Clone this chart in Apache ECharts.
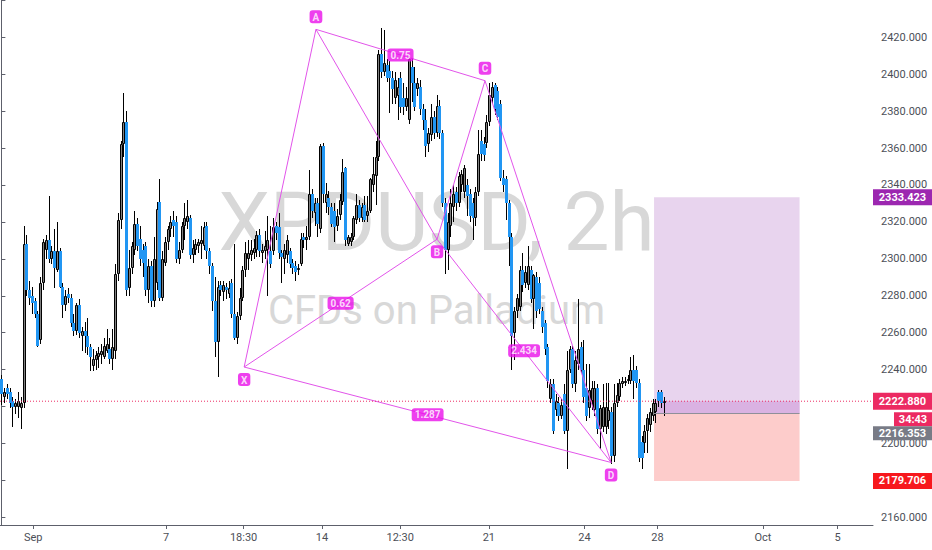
<!DOCTYPE html>
<html><head><meta charset="utf-8">
<script src="https://cdn.jsdelivr.net/npm/echarts@6/dist/echarts.min.js"></script>
<style>html,body{margin:0;padding:0;background:#fff}#c{width:932px;height:550px}</style>
</head><body><div id="c"></div>
<script>
// ---- data ----
// candles: [open, close, low, high], one per 2h bar
const candles = [
[2235,2227,2221,2237],[2225,2228,2222,2230],[2230,2227,2224,2232],[2228,2222,2219,2230],[2223,2220,2209,2225],
[2220,2222,2216,2224],[2220,2223,2214,2228],[2219,2222,2208,2225],[2222,2308,2219,2318],[2308,2283,2280,2313],
[2283,2279,2275,2288],[2280,2276,2270,2285],[2277,2270,2268,2279],[2270,2253,2252,2272],[2256,2287,2254,2290],
[2287,2309,2283,2311],[2305,2310,2300,2313],[2310,2300,2298,2334],[2300,2304,2297,2307],[2304,2295,2284,2316],
[2294,2304,2293,2320],[2304,2285,2284,2306],[2285,2275,2268,2287],[2275,2280,2272,2283],[2281,2279,2276,2284],
[2279,2265,2263,2281],[2265,2261,2258,2270],[2261,2275,2259,2276],[2275,2260,2257,2278],[2258,2261,2250,2263],
[2261,2258,2249,2266],[2258,2252,2248,2268],[2252,2247,2239,2254],[2242,2246,2239,2251],[2245,2248,2240,2250],
[2247,2249,2241,2252],[2248,2250,2243,2254],[2247,2253,2246,2257],[2250,2254,2249,2262],[2251,2246,2243,2257],
[2246,2252,2240,2262],[2250,2292,2246,2297],[2292,2321,2288,2325],[2321,2362,2316,2364],[2362,2374,2355,2390],
[2374,2283,2280,2380],[2284,2295,2280,2305],[2295,2307,2292,2309],[2305,2319,2302,2326],[2319,2307,2304,2322],
[2311,2300,2296,2318],[2305,2298,2290,2308],[2307,2283,2280,2309],[2283,2296,2276,2300],[2296,2277,2274,2299],
[2277,2300,2274,2312],[2287,2327,2283,2331],[2331,2279,2277,2343],[2279,2300,2277,2304],[2298,2309,2296,2312],
[2309,2316,2305,2318],[2316,2320,2312,2323],[2321,2318,2312,2326],[2320,2300,2298,2323],[2300,2305,2297,2309],
[2305,2318,2303,2320],[2318,2322,2310,2330],[2320,2323,2316,2332],[2322,2302,2300,2324],[2302,2306,2298,2310],
[2305,2308,2302,2311],[2307,2309,2303,2311],[2308,2310,2300,2318],[2307,2317,2305,2320],[2318,2304,2300,2320],
[2304,2296,2292,2306],[2296,2277,2272,2298],[2277,2255,2247,2290],[2255,2285,2236,2288],[2286,2283,2280,2288],
[2282,2286,2277,2288],[2285,2283,2278,2287],[2281,2284,2279,2288],[2287,2270,2268,2289],[2270,2257,2256,2308],
[2257,2269,2254,2271],[2269,2279,2267,2284],[2279,2294,2277,2296],[2294,2303,2290,2309],[2300,2303,2294,2310],
[2302,2305,2299,2310],[2303,2306,2300,2311],[2305,2313,2301,2315],[2313,2304,2301,2316],[2303,2305,2298,2308],
[2304,2307,2300,2315],[2305,2310,2280,2323],[2304,2297,2295,2318],[2304,2317,2302,2322],[2318,2314,2310,2320],
[2317,2303,2300,2325],[2303,2301,2287,2305],[2300,2305,2292,2308],[2302,2310,2298,2313],[2304,2297,2295,2306],
[2298,2295,2292,2300],[2296,2293,2288,2299],[2294,2295,2291,2297],[2297,2311,2296,2314],[2312,2310,2306,2314],
[2310,2312,2305,2318],[2312,2335,2310,2348],[2335,2326,2322,2338],[2325,2330,2318,2333],[2330,2319,2312,2333],
[2316,2361,2314,2362],[2361,2335,2330,2363],[2330,2335,2325,2341],[2333,2328,2324,2337],[2328,2319,2317,2330],
[2326,2317,2309,2330],[2318,2323,2315,2327],[2324,2332,2321,2335],[2331,2347,2329,2354],[2349,2310,2307,2350],
[2308,2312,2307,2313],[2309,2312,2307,2314],[2312,2322,2310,2323],[2321,2329,2319,2335],[2329,2322,2320,2332],
[2322,2328,2320,2330],[2329,2321,2320,2334],[2323,2326,2320,2334],[2326,2343,2325,2344],[2340,2346,2336,2355],
[2345,2355,2329,2364],[2355,2411,2353,2413],[2411,2401,2398,2425],[2401,2406,2399,2424],[2405,2398,2396,2408],
[2402,2398,2379,2407],[2398,2392,2384,2402],[2387,2397,2384,2401],[2388,2393,2375,2398],[2398,2382,2379,2401],
[2387,2382,2378,2395],[2382,2387,2380,2393],[2375,2408,2373,2410],[2404,2395,2385,2409],[2395,2382,2380,2404],
[2392,2395,2388,2398],[2393,2381,2378,2397],[2381,2375,2370,2384],[2375,2361,2355,2381],[2362,2368,2358,2371],
[2367,2377,2364,2384],[2377,2368,2365,2380],[2368,2383,2366,2389],[2383,2368,2365,2386],[2368,2330,2328,2370],
[2330,2305,2292,2333],[2305,2320,2294,2325],[2318,2330,2312,2338],[2328,2335,2320,2340],[2336,2330,2326,2339],
[2330,2345,2328,2347],[2340,2346,2336,2348],[2336,2349,2333,2351],[2340,2334,2323,2343],[2335,2323,2320,2338],
[2330,2322,2310,2333],[2322,2336,2318,2339],[2336,2357,2334,2370],[2364,2357,2353,2370],[2362,2356,2353,2366],
[2363,2374,2360,2378],[2374,2389,2372,2395],[2387,2393,2384,2396],[2394,2381,2378,2395],[2391,2377,2375,2393],
[2384,2344,2342,2386],[2344,2340,2336,2348],[2343,2330,2321,2345],[2330,2312,2296,2332],[2312,2258,2240,2314],
[2260,2272,2245,2274],[2272,2279,2268,2281],[2274,2294,2272,2296],[2294,2286,2282,2303],[2287,2293,2284,2296],
[2286,2296,2283,2307],[2294,2278,2276,2296],[2278,2291,2262,2292],[2290,2272,2268,2293],[2287,2273,2270,2290],
[2272,2263,2260,2274],[2265,2251,2248,2267],[2252,2234,2230,2254],[2224,2232,2222,2235],[2232,2207,2205,2235],
[2218,2223,2215,2227],[2222,2215,2212,2225],[2215,2221,2213,2224],[2227,2207,2205,2232],[2207,2240,2186,2250],
[2240,2251,2238,2253],[2251,2232,2230,2253],[2232,2245,2228,2250],[2243,2251,2240,2278],[2252,2240,2238,2255],
[2240,2225,2222,2256],[2230,2215,2212,2243],[2219,2229,2214,2243],[2223,2230,2218,2234],[2218,2230,2215,2234],
[2230,2208,2205,2232],[2208,2219,2197,2221],[2209,2220,2206,2232],[2209,2220,2205,2233],[2212,2218,2208,2233],
[2217,2193,2189,2220],[2193,2222,2190,2232],[2222,2226,2220,2233],[2225,2233,2223,2235],[2232,2234,2230,2236],
[2233,2234,2231,2236],[2234,2235,2232,2237],[2234,2240,2232,2247],[2240,2234,2224,2248],[2240,2233,2230,2242],
[2233,2192,2190,2235],[2201,2192,2186,2204],[2200,2207,2195,2210],[2207,2214,2195,2216],[2210,2217,2206,2219],
[2215,2222,2212,2224],[2217,2222,2211,2224],[2228,2223,2220,2229],[2228,2222,2219,2229],[2222,2222.88,2215,2225]
];
const barSlots = 315;                      // visible bar slots incl. empty future
const xTickIdx  = [11.5, 59.4, 87.4, 115.7, 143.9, 175.9, 210.4, 236.7, 274.8, 301.7];
const xTickText = ['Sep','7','18:30','14','12:30','21','24','28','Oct','5'];
const yLabelMax = 2420;                    // highest price label shown on the scale
const yHiddenLabels = [2180, 2220];        // labels covered by price tags
// harmonic XABCD pattern anchors (bar index, price)
const patternNames = ['X','A','B','C','D'];
const patternIdx   = [87.6, 113.5, 157.2, 174.5, 220.0];
const patternPrice = [2241.4, 2424.3, 2310.6, 2396.5, 2189.7];
const ratioLinks   = [['X','B','0.62'],['A','C','0.75'],['B','D','2.434'],['X','D','1.287']];
// long position tool
const positionStartIdx = 235.5, positionEndIdx = 288;
const targetPrice = 2333.423, entryPrice = 2216.353, stopPrice = 2179.706;
const lastPrice = 2222.880, countdownText = '34:43';
const titleText = 'XPDUSD, 2h', subtitleText = 'CFDs on Palladium';

// ---- styles ----
const UP_FILL = '#808080', DOWN_FILL = '#2196f3', WICK = '#000000';
const PAT = '#e254ea', PAT_BG = '#ea10ea';
const LAST_COLOR = '#ec2a62';
const AXIS_TXT = '#4c4f57', AXIS_LINE = '#5d606b';
const FONT = 'Roboto';
const X_MIN = -0.5, X_MAX = barSlots - 0.5;

const chart = echarts.init(document.getElementById('c'), null, {renderer: 'svg'});

function renderCandle(params, api) {
  const i = api.value(0), o = api.value(1), c = api.value(2), l = api.value(3), h = api.value(4);
  const pO = api.coord([i, o]), pC = api.coord([i, c]), pH = api.coord([i, h]), pL = api.coord([i, l]);
  const cx = Math.round(pO[0]);
  const up = c >= o;
  let top = Math.round(Math.min(pO[1], pC[1])), bot = Math.round(Math.max(pO[1], pC[1]));
  if (bot - top < 2) bot = top + 2;
  const kids = [{type: 'line', shape: {x1: cx + 0.5, y1: Math.round(pH[1]), x2: cx + 0.5, y2: Math.round(pL[1])},
    style: {stroke: WICK, lineWidth: 1}}];
  if (up) {
    kids.push({type: 'rect', shape: {x: cx - 0.5, y: top + 0.5, width: 2, height: bot - top - 1},
      style: {fill: UP_FILL, stroke: '#000', lineWidth: 1}});
  } else {
    kids.push({type: 'rect', shape: {x: cx - 1, y: top, width: 3, height: bot - top},
      style: {fill: DOWN_FILL}});
  }
  return {type: 'group', children: kids};
}

const pt = n => { const k = patternNames.indexOf(n); return [patternIdx[k], patternPrice[k]]; };
const xLabelFor = v => { for (let k = 0; k < xTickIdx.length; k++) if (Math.abs(xTickIdx[k] - v) < 1e-6) return xTickText[k]; return ''; };
const yLabelFor = v => {
  const r = Math.round(v / 20) * 20;
  if (Math.abs(v - r) > 1e-6 || r > yLabelMax || yHiddenLabels.indexOf(r) >= 0) return '';
  return r.toFixed(3);
};

function tag(value, text, bg, size, offset) {
  return {coord: [X_MAX, value], symbol: 'rect', symbolSize: size, symbolOffset: offset,
    itemStyle: {color: bg},
    label: {show: true, position: 'inside', formatter: text, color: '#fff', fontSize: 11,
      fontFamily: FONT, fontWeight: 'bold'}};
}

const series = [];
// position tool (behind candles)
series.push({
  type: 'line', data: [], z: 1, silent: true,
  markArea: {silent: true, data: [
    [{coord: [positionStartIdx, targetPrice], itemStyle: {color: '#e8d4ee'}}, {coord: [positionEndIdx, entryPrice]}],
    [{coord: [positionStartIdx, entryPrice], itemStyle: {color: '#fdcccb'}}, {coord: [positionEndIdx, stopPrice]}],
    [{coord: [positionStartIdx, lastPrice], itemStyle: {color: '#dab2e2'}}, {coord: [positionEndIdx, entryPrice]}]
  ]},
  markLine: {silent: true, symbol: 'none', label: {show: false},
    lineStyle: {color: '#8f8f99', width: 1, type: 'solid'},
    data: [[{coord: [positionStartIdx, entryPrice]}, {coord: [positionEndIdx, entryPrice]}]]}
});
// last-price dotted line across the whole pane
series.push({
  type: 'line', z: 5, silent: true, symbol: 'none',
  data: [[X_MIN, lastPrice], [X_MAX, lastPrice]],
  lineStyle: {color: LAST_COLOR, width: 1, type: [1, 2]}
});
// candles
series.push({
  type: 'custom', z: 3, renderItem: renderCandle, clip: true,
  encode: {x: 0, y: [1, 2, 3, 4]},
  data: candles.map((c, i) => [i, c[0], c[1], c[2], c[3]])
});
// pattern polyline and diagonals
series.push({type: 'line', z: 4, symbol: 'none', silent: true,
  data: patternNames.map(n => pt(n)), lineStyle: {color: PAT, width: 1}});
ratioLinks.forEach(r => series.push({type: 'line', z: 4, symbol: 'none', silent: true,
  data: [pt(r[0]), pt(r[1])], lineStyle: {color: PAT, width: 1}}));
// pattern labels
const boxLabel = {show: true, color: '#fff', fontSize: 10, fontWeight: 'bold', fontFamily: FONT,
  backgroundColor: PAT_BG, borderRadius: 3, padding: [2, 3, 1, 3]};
series.push({type: 'scatter', z: 6, symbolSize: 2, itemStyle: {color: 'rgba(0,0,0,0)'}, silent: true,
  data: patternNames.map((n, k) => ({value: pt(n), label: Object.assign({}, boxLabel,
    {formatter: n, position: (k % 2 === 1) ? 'top' : 'bottom', distance: 5})}))});
series.push({type: 'scatter', z: 6, symbolSize: 2, itemStyle: {color: 'rgba(0,0,0,0)'}, silent: true,
  data: ratioLinks.map(r => { const a = pt(r[0]), b = pt(r[1]);
    return {value: [(a[0] + b[0]) / 2, (a[1] + b[1]) / 2], label: Object.assign({}, boxLabel, {formatter: r[2], position: 'inside'})}; })});
// right-scale price tags
series.push({type: 'line', data: [], z: 20, silent: true,
  markPoint: {silent: true, z: 20, data: [
    tag(targetPrice, targetPrice.toFixed(3), '#9c27b0', [59, 16], [29.5, 0]),
    tag(lastPrice, lastPrice.toFixed(3), LAST_COLOR, [59, 17], [29.5, 0]),
    tag(lastPrice, countdownText, LAST_COLOR, [38, 14], [40, 18]),
    tag(entryPrice, entryPrice.toFixed(3), '#787b86', [59, 14], [29.5, 20]),
    tag(stopPrice, stopPrice.toFixed(3), '#f7181d', [59, 16], [29.5, 0])
  ]}});

chart.setOption({
  animation: false,
  backgroundColor: '#ffffff',
  title: [
    {text: titleText, left: 436.5, top: 181, textAlign: 'center', padding: 0, z: 0,
      textStyle: {fontFamily: FONT, fontSize: 82, fontWeight: 'normal', color: '#d8d8d8', lineHeight: 82}},
    {text: subtitleText, left: 436.5, top: 290, textAlign: 'center', padding: 0, z: 0,
      textStyle: {fontFamily: FONT, fontSize: 40, fontWeight: 'normal', color: '#d8d8d8', lineHeight: 40}}
  ],
  grid: {left: 0, right: 59, top: 0, bottom: 25, containLabel: false},
  xAxis: {
    type: 'value', min: X_MIN, max: X_MAX,
    axisLine: {show: true, lineStyle: {color: AXIS_LINE, width: 1}},
    axisTick: {show: true, customValues: xTickIdx, length: 4, lineStyle: {color: AXIS_LINE}},
    axisLabel: {customValues: xTickIdx, formatter: xLabelFor, color: AXIS_TXT, fontSize: 11, fontFamily: FONT, margin: 7},
    splitLine: {show: false}
  },
  yAxis: {
    type: 'value', position: 'right', min: 2155.83, max: 2440.2, splitNumber: 14, minInterval: 20, maxInterval: 20,
    axisLine: {show: true, lineStyle: {color: AXIS_LINE, width: 1}},
    axisTick: {show: true, length: 4, lineStyle: {color: AXIS_LINE}},
    axisLabel: {color: AXIS_TXT, fontSize: 11, fontFamily: FONT, margin: 8, showMinLabel: false, showMaxLabel: false,
      formatter: yLabelFor},
    splitLine: {show: false}
  },
  series: series
});
</script></body></html>
